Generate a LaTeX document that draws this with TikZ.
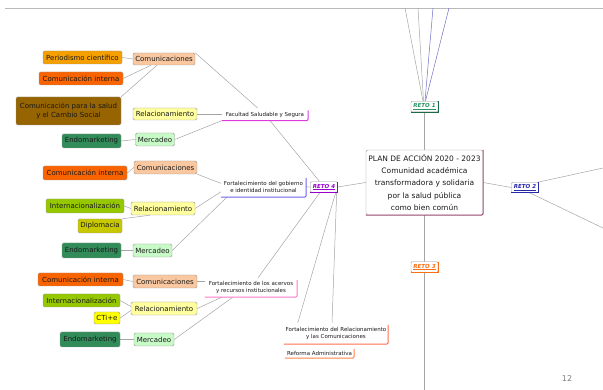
\documentclass[tikz,border=0pt]{standalone}
\usepackage{fontspec}
\setmainfont{DejaVu Sans}
\usetikzlibrary{calc}
\pgfdeclarelayer{bg}
\pgfsetlayers{bg,main}
\definecolor{lineg}{RGB}{165,165,165}
\definecolor{topg}{RGB}{185,185,185}
\definecolor{boxg}{RGB}{150,150,150}
\definecolor{lblue}{RGB}{110,110,200}
\definecolor{peach}{RGB}{250,200,160}
\definecolor{lyellow}{RGB}{255,255,160}
\definecolor{lgreen}{RGB}{200,250,200}
\definecolor{gold}{RGB}{245,160,0}
\definecolor{dorange}{RGB}{250,100,0}
\definecolor{brownc}{RGB}{150,100,0}
\definecolor{dgreen}{RGB}{50,140,90}
\definecolor{ygreen}{RGB}{150,200,0}
\definecolor{olivey}{RGB}{200,200,0}
\definecolor{pyellow}{RGB}{255,255,0}
\definecolor{facc}{RGB}{220,60,220}
\definecolor{gobc}{RGB}{110,100,240}
\definecolor{acec}{RGB}{255,120,200}
\definecolor{relc}{RGB}{255,110,80}
\definecolor{refc}{RGB}{255,130,70}
\definecolor{plumc}{RGB}{160,80,120}
\definecolor{r1c}{RGB}{40,150,100}
\definecolor{r2c}{RGB}{40,40,170}
\definecolor{r3c}{RGB}{250,110,20}
\definecolor{r4c}{RGB}{150,0,200}
\definecolor{textc}{RGB}{25,25,25}
\tikzset{
  conn/.style={draw=lineg, line width=0.5pt},
  sz/.style 2 args={minimum width=#1pt, minimum height=#2pt},
  leaf/.style={draw=boxg, line width=0.4pt, rounded corners=1.5pt, inner sep=0pt,
    text=textc, font=\fontsize{7}{8.2}\selectfont, align=center},
  lvtwo/.style={fill=white, inner sep=0pt, text=textc,
    font=\fontsize{5.5}{7}\selectfont, align=center},
  edgeline/.style={line width=1pt, rounded corners=2pt},
  reto/.style={draw=boxg, fill=white, line width=0.4pt, rounded corners=1pt, inner sep=0pt,
    font=\fontsize{5.5}{6}\selectfont\bfseries\itshape, minimum width=27pt, minimum height=10.5pt}
}
\begin{document}
\begin{tikzpicture}[x=1pt,y=-1pt]
\useasboundingbox (0,0) rectangle (603,390);

% ---------- central and retos ----------
\node[draw=boxg, fill=white, rounded corners=2pt, inner sep=0pt, sz={117}{65}, align=center,
  text=textc, font=\fontsize{7.5}{12.3}\selectfont] (C) at (424.5,182.5)
  {PLAN DE ACCIÓN 2020 - 2023\\Comunidad académica\\transformadora y solidaria\\por la salud pública\\como bien común};
\draw[plumc, edgeline] (C.south west) -- (C.south east) -- (C.north east);

\node[reto, text=r1c] (R1) at (424.5,106.5) {\underline{RETO 1}};
\draw[r1c!70!black, line width=0.8pt] (R1.south west) -- (R1.south east) -- (R1.north east);
\node[reto, text=r2c] (R2) at (525,187.5) {\underline{RETO 2}};
\draw[r2c, line width=0.9pt] (R2.south west) -- (R2.south east) -- (R2.north east);
\node[reto, text=r3c] (R3) at (424.5,267) {\underline{RETO 3}};
\draw[r3c, line width=0.9pt] (R3.south west) -- (R3.south east) -- (R3.north east);
\node[reto, text=r4c] (R4) at (324,187) {\underline{RETO 4}};
\draw[r4c, line width=0.9pt] (R4.south west) -- (R4.south east) -- (R4.north east);

% ---------- level 2 ----------
\node[lvtwo, sz={86}{12}] (fac) at (265,114.5) {Facultad Saludable y Segura};
\draw[facc, edgeline] (fac.south west) -- (fac.south east) -- ($(fac.north east)+(0,2)$);
\node[lvtwo, sz={85}{21}] (gob) at (263.5,186.5) {Fortalecimiento del gobierno\\e identidad institucional};
\draw[gobc, edgeline] (gob.south west) -- (gob.south east) -- ($(gob.north east)+(0,2)$);
\node[lvtwo, sz={92}{19}] (ace) at (251,287.5) {Fortalecimiento de los acervos\\y recursos institucionales};
\draw[acec, edgeline] (ace.south west) -- (ace.south east) -- ($(ace.north east)+(0,2)$);
\node[lvtwo, sz={104}{21}] (rel4) at (336,333.5) {Fortalecimiento del Relacionamiento\\y las Comunicaciones};
\draw[relc, edgeline] (rel4.south west) -- (rel4.south east) -- ($(rel4.north east)+(0,2)$);
\node[lvtwo, sz={69}{10}] (ref) at (319.5,353) {Reforma Administrativa};
\draw[refc, edgeline] (ref.south west) -- (ref.south east) -- ($(ref.north east)+(0,1)$);

% ---------- group 1 ----------
\node[leaf, fill=peach, sz={62}{12}] (c1) at (164,59) {Comunicaciones};
\node[leaf, fill=lyellow, sz={64}{12}] (r1) at (165,114) {Relacionamiento};
\node[leaf, fill=lgreen, sz={39}{13}] (m1) at (155,139.5) {Mercadeo};
\node[leaf, fill=gold, sz={79}{13}] (p1) at (82.5,57.5) {Periodismo científico};
\node[leaf, fill=dorange, sz={84}{13}] (ci1) at (81,78.5) {Comunicación interna};
\node[leaf, fill=brownc, sz={105}{28}] (cs1) at (68.5,111) {Comunicación para la salud\\y el Cambio Social};
\node[leaf, fill=dgreen, sz={59}{14}] (e1) at (91.5,141) {Endomarketing};

% ---------- group 2 ----------
\node[leaf, fill=peach, sz={63}{13}] (c2) at (165.5,167.5) {Comunicaciones};
\node[leaf, fill=dorange, sz={84}{14}] (ci2) at (85,173) {Comunicación interna};
\node[leaf, fill=lyellow, sz={64}{13}] (r2) at (163,208.5) {Relacionamiento};
\node[leaf, fill=ygreen, sz={78}{14}] (in2) at (85,206) {Internacionalización};
\node[leaf, fill=olivey, sz={44}{14}] (d2) at (100,226) {Diplomacia};
\node[leaf, fill=lgreen, sz={39}{13}] (m2) at (152.5,250.5) {Mercadeo};
\node[leaf, fill=dgreen, sz={59}{15}] (e2) at (91.5,250.5) {Endomarketing};

% ---------- group 3 ----------
\node[leaf, fill=dorange, sz={85}{13}] (ci3) at (80.5,279.5) {Comunicación interna};
\node[leaf, fill=peach, sz={64}{13}] (c3) at (165,281.5) {Comunicaciones};
\node[leaf, fill=ygreen, sz={77}{13}] (in3) at (81.5,300.5) {Internacionalización};
\node[leaf, fill=pyellow, sz={26}{12}] (ct3) at (107,318) {CTi+e};
\node[leaf, fill=lyellow, sz={66}{13}] (r3) at (164,308.5) {Relacionamiento};
\node[leaf, fill=dgreen, sz={60}{15}] (e3) at (90,339.5) {Endomarketing};
\node[leaf, fill=lgreen, sz={40}{13}] (m3) at (154,339.5) {Mercadeo};

% page number
\node[text=gray, font=\fontsize{8}{9}\selectfont, inner sep=0pt] (pg) at (567,379) {12};

% ---------- connectors ----------
\coordinate (tl) at (5,8);
\coordinate (tr) at (603,8);
\coordinate (t1) at (405,8);
\coordinate (t2) at (418,8);
\coordinate (t3) at (433,8);
\coordinate (t4) at (449,8);
\coordinate (e2a) at (603,168);
\coordinate (e2b) at (603,228);
\coordinate (bot) at (424.5,390);
\begin{pgfonlayer}{bg}
\draw[draw=topg, line width=0.6pt] (tl) -- (tr);
\draw[conn] (t1) -- ($(R1.north)+(-1.5,0)$);
\draw[conn] (t2) -- ($(R1.north)+(-1,0)$);
\draw[draw=lblue, line width=0.5pt] (t3) -- ($(R1.north)+(0.5,0)$);
\draw[draw=lblue, line width=0.5pt] (t4) -- ($(R1.north)+(1,0)$);
\draw[conn] (C.north) -- (R1.south);
\draw[conn] (C.east) -- (R2.west);
\draw[conn] (R2.north east) -- (e2a);
\draw[conn] ($(R2.south)+(5,0)$) -- (e2b);
\draw[conn] (C.south) -- (R3.north);
\draw[conn] (R3.south) -- (bot);
\draw[conn] (C.west) -- (R4.east);
% reto 4 to level 2
\draw[conn] (R4) -- (fac);
\draw[conn] (R4) -- (gob);
\draw[conn] (R4) -- (ace);
\draw[conn] ($(R4.south east)+(-2,0)$) -- ($(rel4.north west)+(14,0)$);
\draw[conn] ($(R4.south east)+(-1,0)$) -- ($(rel4.north)+(-4,0)$);
% group 1
\draw[conn] (p1.east) -- (c1.west);
\draw[conn] (ci1.east) -- (c1);
\draw[conn] (cs1.north east) -- (c1);
\draw[conn] (e1.east) -- (m1.west);
\draw[conn] (c1.north east) -- (fac);
\draw[conn] (r1.east) -- (r1.east -| fac.west);
\draw[conn] (m1.east) -- (fac.south west);
% group 2
\draw[conn] (ci2.east) -- (c2.west);
\draw[conn] (in2.east) -- (r2.west);
\draw[conn] (d2.north east) -- ($(r2.south west)!0.3!(r2.south east)$);
\draw[conn] (e2.east) -- (m2.west);
\draw[conn] (c2.south east) -- ($(gob.north west)!0.35!(gob.south west)$);
\draw[conn] (r2.east) -- ($(gob.west)!0.5!(gob.south west)$);
\draw[conn] (m2.east) -- ($(gob.south west)+(6,0)$);
% group 3
\draw[conn] (ci3.east) -- (c3.west);
\draw[conn] (in3.east) -- ($(r3.west)+(0,-2)$);
\draw[conn] (ct3.east) -- ($(r3.west)+(0,2)$);
\draw[conn] (e3.east) -- (m3.west);
\draw[conn] (c3.east) -- (c3.east -| ace.west);
\draw[conn] (r3.east) -- ($(ace.south west)+(17,0)$);
\draw[conn] (m3.east) -- ($(ace.south west)+(28,0)$);
\end{pgfonlayer}
\end{tikzpicture}
\end{document}
